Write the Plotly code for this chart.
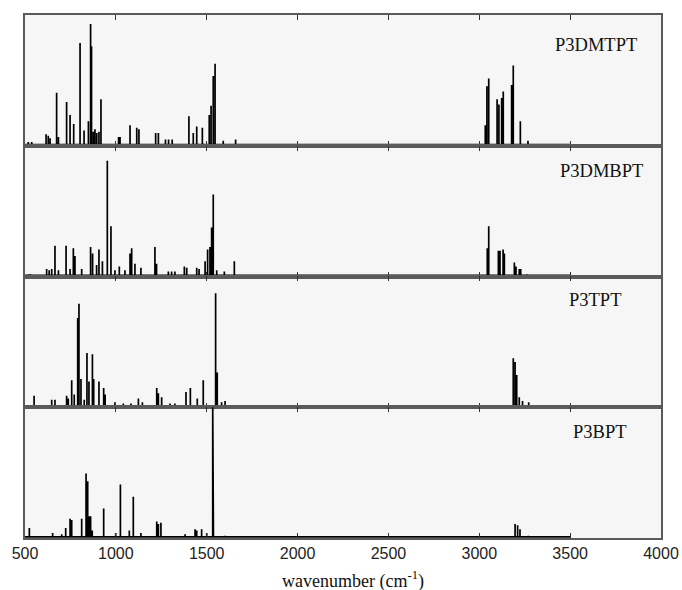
import plotly.graph_objects as go
from plotly.subplots import make_subplots

# Calculated vibrational spectra: band positions (cm^-1) and relative intensities
p3dmtpt_wn = [518, 537, 616, 628, 638, 674, 684, 729, 748, 768,
              803, 825, 849, 861, 866, 876, 885, 895, 907, 918,
              1015, 1023, 1078, 1115, 1127, 1219, 1234, 1273, 1290, 1310,
              1402, 1426, 1445, 1476, 1514, 1524, 1536, 1546, 1591, 1659,
              3033, 3042, 3052, 3098, 3108, 3123, 3132, 3178, 3187, 3226,
              3268]
p3dmtpt_int = [2, 2, 8, 7, 5, 40, 6, 33, 23, 16,
               78.5, 11, 18, 93, 76, 10, 12, 9, 10, 35,
               6, 6, 15, 13, 12, 9, 9, 4, 4, 4,
               22, 9, 14, 13, 23, 30, 53, 62.5, 3, 4,
               15, 45, 51, 35, 31, 36, 41, 46, 61, 18,
               3]

p3dmbpt_wn = [520, 530, 619, 633, 647, 665, 684, 726, 748, 766,
              775, 812, 861, 872, 894, 907, 926, 953, 973, 995,
              1019, 1050, 1078, 1087, 1105, 1138, 1215, 1224, 1289, 1307,
              1325, 1377, 1390, 1445, 1458, 1491, 1505, 1518, 1527, 1536,
              1555, 1597, 1652, 3044, 3052, 3105, 3114, 3131, 3138, 3193,
              3202, 3220, 3228, 3262]
p3dmbpt_int = [1, 1, 5, 4, 5, 23, 4, 23, 5, 21,
               15, 5, 22, 17, 8, 20, 11, 88.5, 38, 4,
               7, 4, 17, 21, 9, 6, 22, 9, 3, 3,
               3, 7, 6, 6, 5, 11, 20, 22, 37, 62.5,
               4, 3, 11, 21, 38, 19, 19, 20, 17, 10,
               7, 5, 5, 1]

p3tpt_wn = [550, 647, 665, 729, 738, 757, 771, 790, 797, 808,
            826, 841, 852, 871, 878, 907, 933, 941, 995, 1041,
            1083, 1124, 1146, 1225, 1234, 1252, 1298, 1325, 1386, 1410,
            1448, 1481, 1549, 1558, 1582, 1601, 3187, 3197, 3206, 3220,
            3238, 3272]
p3tpt_int = [8, 5, 5, 8, 6, 20, 9, 68, 79, 21,
             5, 41, 19, 40, 21, 19, 14, 9, 3, 2,
             2, 6, 3, 14, 10, 7, 2, 2, 11, 14,
             6, 20, 87, 26, 3, 4, 37, 34, 24, 7,
             4, 3]

p3bpt_wn = [524, 652, 702, 724, 748, 757, 812, 836, 845, 852,
            861, 870, 933, 999, 1025, 1074, 1096, 1138, 1225, 1234,
            1248, 1381, 1436, 1445, 1472, 1500, 1533, 1537, 1601, 3197,
            3211, 3224, 3270]
p3bpt_int = [7, 3, 2, 7, 14, 13, 14, 49, 43, 16,
             16, 5, 22, 3, 40.5, 5, 31, 3, 12, 10,
             11, 2, 6, 5, 6, 3, 100, 60, 1, 10,
             9, 6, 1]

names = ["P3DMTPT", "P3DMBPT", "P3TPT", "P3BPT"]
spectra = [(p3dmtpt_wn, p3dmtpt_int), (p3dmbpt_wn, p3dmbpt_int),
           (p3tpt_wn, p3tpt_int), (p3bpt_wn, p3bpt_int)]
label_x = [3642, 3670, 3637, 3664]
label_dy = [0.77, 0.81, 0.82, 0.81]

x_ticks = [500, 1000, 1500, 2000, 2500, 3000, 3500, 4000]
spec_start, spec_end = 500, 3500

serif = "Times New Roman, Liberation Serif, DejaVu Serif, serif"

fig = make_subplots(rows=4, cols=1, shared_xaxes=True, vertical_spacing=0)

axis_color = "#5a5a5a"
for i, ((wn, inten), name) in enumerate(zip(spectra, names), start=1):
    xs, ys = [spec_start], [0]
    for w, h in zip(wn, inten):
        xs += [w, w, w]
        ys += [0, h, 0]
    xs.append(spec_end)
    ys.append(0)
    fig.add_trace(go.Scatter(x=xs, y=ys, mode="lines",
                             line=dict(color="black", width=1.7),
                             hoverinfo="skip", showlegend=False),
                  row=i, col=1)
    fig.update_yaxes(range=[-0.8, 100], showticklabels=False, ticks="",
                     showgrid=False, zeroline=False, showline=True,
                     linecolor=axis_color, linewidth=1.5, mirror=True,
                     automargin=False, row=i, col=1)
    fig.update_xaxes(range=[500, 4000], tickvals=x_ticks,
                     ticks="inside", ticklen=5, tickwidth=1.2,
                     tickcolor="#333", showgrid=False, zeroline=False,
                     showline=True, linecolor=axis_color, linewidth=1.5,
                     mirror="ticks", automargin=False, row=i, col=1)
    yref = "y domain" if i == 1 else f"y{i} domain"
    xref = "x" if i == 1 else f"x{i}"
    fig.add_annotation(x=label_x[i - 1], y=label_dy[i - 1], xref=xref, yref=yref,
                       text=name, showarrow=False, xanchor="center", yanchor="middle",
                       font=dict(family=serif, size=18.5, color="#111"))

fig.update_xaxes(showticklabels=True,
                 tickfont=dict(family="Arial, Liberation Sans, sans-serif",
                               size=16, color="#222"),
                 row=4, col=1)

fig.add_annotation(x=0.516, y=-0.08, xref="paper", yref="paper",
                   text="wavenumber (cm<sup>-1</sup>)", showarrow=False,
                   xanchor="center", yanchor="middle",
                   font=dict(family=serif, size=18, color="#111"))

fig.update_layout(width=682, height=590,
                  margin=dict(l=25, r=21, t=15, b=52, autoexpand=False),
                  paper_bgcolor="white", plot_bgcolor="#f6f6f6")

fig.write_html("out.html")
